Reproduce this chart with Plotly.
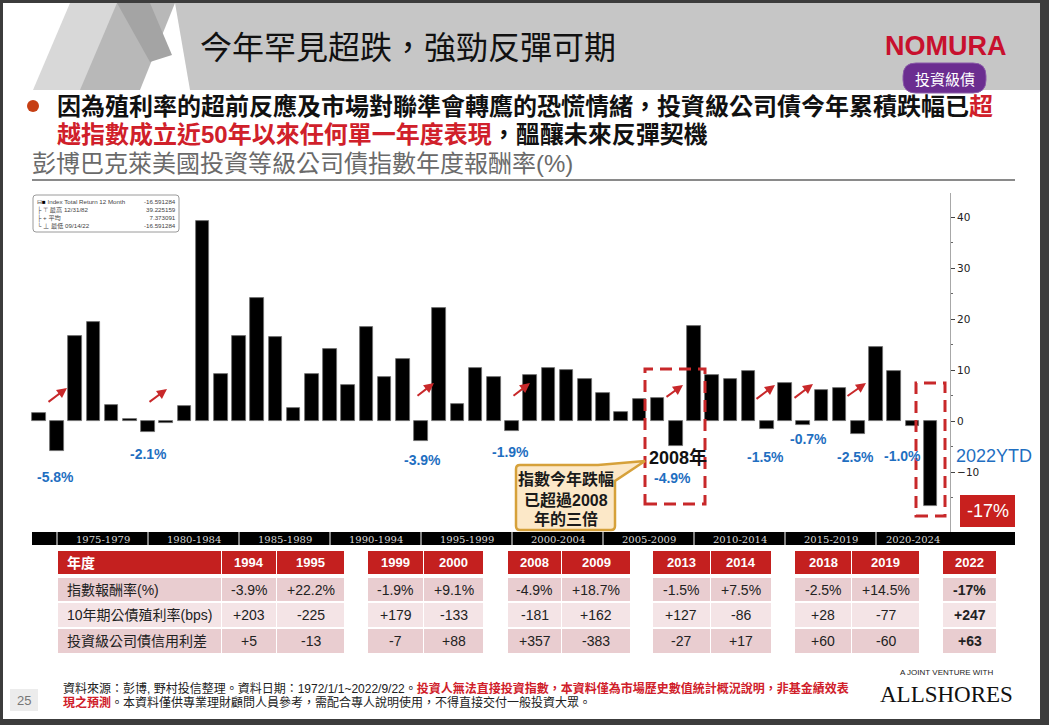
import plotly.graph_objects as go

W, H = 1049, 725

# ---------------- data ----------------
years = list(range(1973, 2023))
annual_returns = [1.5, -5.8, 16.7, 19.4, 3.2, 0.3, -2.1, -0.3, 3.0, 39.2,
                  9.3, 16.7, 24.1, 16.5, 2.6, 9.2, 14.1, 7.1, 18.5, 8.7,
                  12.1, -3.9, 22.2, 3.3, 10.3, 8.6, -1.9, 9.1, 10.3, 10.0,
                  8.2, 5.4, 1.8, 4.3, 4.6, -4.9, 18.7, 9.0, 8.2, 9.8,
                  -1.5, 7.5, -0.7, 6.1, 6.4, -2.5, 14.5, 9.9, -1.0, -16.59]
neg_label_years = [1974, 1979, 1994, 1999, 2008, 2013, 2015, 2018, 2021]
period_starts = [1975, 1980, 1985, 1990, 1995, 2000, 2005, 2010, 2015, 2020]
period_labels = ["1975-1979", "1980-1984", "1985-1989", "1990-1994", "1995-1999",
                 "2000-2004", "2005-2009", "2010-2014", "2015-2019", "2020-2024"]
y_ticks = [-10, 0, 10, 20, 30, 40]

legend_rows = [("Index Total Return 12 Month", "-16.591284"),
               ("最高 12/31/82", "39.225159"),
               ("平均", "7.373091"),
               ("最低 09/14/22", "-16.591284")]

table_row_labels = ["年度", "指數報酬率(%)", "10年期公債殖利率(bps)", "投資級公司債信用利差"]
table_years = ["1994", "1995", "1999", "2000", "2008", "2009", "2013", "2014", "2018", "2019", "2022"]
table_returns = ["-3.9%", "+22.2%", "-1.9%", "+9.1%", "-4.9%", "+18.7%", "-1.5%", "+7.5%", "-2.5%", "+14.5%", "-17%"]
table_yield_bps = ["+203", "-225", "+179", "-133", "-181", "+162", "+127", "-86", "+28", "-77", "+247"]
table_spread = ["+5", "-13", "-7", "+88", "+357", "-383", "-27", "+17", "+60", "-60", "+63"]

# ---------------- helpers ----------------
CJK = "Noto Sans CJK TC"
SANS = "Liberation Sans, Noto Sans CJK TC"
BLUE = "#1f6fc1"

shapes = []
annotations = []


def fx(x):
    return x / W


def fy(y):
    return 1 - y / H


def rect(x0, y0, x1, y1, fill, line_color=None, line_width=0, dash=None):
    shapes.append(dict(type="rect", xref="paper", yref="paper",
                       x0=fx(x0), x1=fx(x1), y0=fy(y1), y1=fy(y0),
                       fillcolor=fill, layer="above",
                       line=dict(color=line_color or "rgba(0,0,0,0)", width=line_width, dash=dash)))


def path_shape(cmds, fill, line_color=None, line_width=0):
    parts = []
    for c in cmds:
        if c[0] == "Z":
            parts.append("Z")
        else:
            parts.append(c[0] + " " + " ".join(f"{fx(px):.5f},{fy(py):.5f}" for px, py in c[1:]))
    shapes.append(dict(type="path", xref="paper", yref="paper", path=" ".join(parts),
                       fillcolor=fill, layer="above",
                       line=dict(color=line_color or "rgba(0,0,0,0)", width=line_width)))


def poly(points, fill):
    cmds = [("M", points[0])] + [("L", p) for p in points[1:]] + [("Z",)]
    path_shape(cmds, fill)


def rrect(x0, y0, x1, y1, r, fill, line_color=None, line_width=0):
    cmds = [("M", (x0 + r, y0)), ("L", (x1 - r, y0)), ("Q", (x1, y0), (x1, y0 + r)),
            ("L", (x1, y1 - r)), ("Q", (x1, y1), (x1 - r, y1)), ("L", (x0 + r, y1)),
            ("Q", (x0, y1), (x0, y1 - r)), ("L", (x0, y0 + r)), ("Q", (x0, y0), (x0 + r, y0)), ("Z",)]
    path_shape(cmds, fill, line_color, line_width)


def text(x, y, s, size, color="#000", family=SANS, xanchor="center", yanchor="middle", align="center"):
    annotations.append(dict(xref="paper", yref="paper", x=fx(x), y=fy(y), text=s,
                            showarrow=False, font=dict(size=size, color=color, family=family),
                            xanchor=xanchor, yanchor=yanchor, borderpad=0, align=align))


# ---------------- chart geometry ----------------
X_LEFT_PX, X_RIGHT_PX = 30, 950
Y_TOP_PX, Y_BOT_PX = 193, 533
ZERO_PX, PX_PER_UNIT = 421, 5.1
X0_PX, PX_PER_YEAR, X0_YEAR = 57, 18.2, 1974
x_range = [X0_YEAR + (X_LEFT_PX - X0_PX) / PX_PER_YEAR, X0_YEAR + (X_RIGHT_PX - X0_PX) / PX_PER_YEAR]
y_range = [(ZERO_PX - Y_BOT_PX) / PX_PER_UNIT, (ZERO_PX - Y_TOP_PX) / PX_PER_UNIT]

fig = go.Figure()
fig.add_trace(go.Bar(x=years, y=annual_returns, width=0.74,
                     marker=dict(color="#000000", line=dict(color="#707070", width=0.8)),
                     hoverinfo="skip", showlegend=False))

# ---------------- header ----------------
rect(0, 0, W, 3, "#3c3c3c")
rect(0, 0, 3, H, "#3c3c3c")
rect(1040, 0, W, H, "#3c3c3c")
rect(0, 719, W, H, "#3c3c3c")
poly([(175, 3), (1040, 3), (1040, 90), (190, 90)], "#c6c6c6")
poly([(33, 90), (70, 3), (120, 3), (83, 90)], "#d8d8d8")
poly([(80, 90), (117, 3), (175, 3), (140, 90)], "#b8b8b8")
poly([(117, 3), (150, 3), (172, 55), (150, 62)], "#a4a4a4")
text(408, 45, "今年罕見超跌，強勁反彈可期", 32, "#111", CJK)
text(946, 46, "<b>NOMURA</b>", 27, "#c8102e", "Liberation Sans")
rrect(903, 63, 986, 93, 13, "#6b2d90", "#8a5aa8", 1)
text(944.5, 78, "投資級債", 15, "#ffffff", CJK)

shapes.append(dict(type="circle", xref="paper", yref="paper", x0=fx(27), x1=fx(39), y0=fy(112), y1=fy(100),
                   fillcolor="#c63f14", line=dict(width=0), layer="above"))
text(56, 106, "<b>因為殖利率的超前反應及市場對聯準會轉鷹的恐慌情緒，投資級公司債今年累積跌幅已"
              "<span style='color:#d0202a'>超</span></b>", 24, "#111", SANS, xanchor="left")
text(56, 134, "<b><span style='color:#d0202a'>越指數成立近50年以來任何單一年度表現</span>，醞釀未來反彈契機</b>",
     24, "#111", SANS, xanchor="left")
text(31, 163, "彭博巴克萊美國投資等級公司債指數年度報酬率(%)", 24, "#6a6a6a", SANS, xanchor="left")
shapes.append(dict(type="line", xref="paper", yref="paper", x0=fx(32), x1=fx(1015), y0=fy(180), y1=fy(180),
                   line=dict(color="#8a8a8a", width=2), layer="above"))

# ---------------- bloomberg legend box ----------------
rrect(33, 195, 179, 232, 3, "#ffffff", "#9a9a9a", 1)
legend_marks = ["⊟<span style='color:#000'>■</span>", "├ ⊤", "├ +", "└ ⊥"]
left_block = "<br>".join(mk + " " + lab for mk, (lab, _) in zip(legend_marks, legend_rows))
right_block = "<br>".join(val for _, val in legend_rows)
text(36, 213.5, left_block, 6.2, "#444", SANS, xanchor="left", align="left")
text(177, 213.5, right_block, 6.2, "#444", SANS, xanchor="right", align="right")

# ---------------- period strip ----------------
rect(32, 532, 1015, 545, "#000000")
for s, lab in zip(period_starts, period_labels):
    b0 = s - 1
    b1 = min(s + 4, x_range[1])
    shapes.append(dict(type="line", xref="x", yref="paper", x0=b0, x1=b0, y0=fy(545), y1=fy(532),
                       line=dict(color="#ffffff", width=1), layer="above"))
    annotations.append(dict(xref="x", yref="paper", x=(b0 + b1) / 2, y=fy(539), text=lab, showarrow=False,
                            font=dict(size=10, color="#d8d8d8", family="DejaVu Serif"),
                            xanchor="center", yanchor="middle"))

# ---------------- chart annotations ----------------
arrows_px = [(47, 403, 67, 388), (148, 403, 167, 389), (416, 397, 434, 383), (512, 397, 530, 383),
             (665, 398, 683, 385), (755, 400, 775, 385), (793, 399, 813, 384), (846, 397, 866, 383)]
for tx, ty, hx, hy in arrows_px:
    annotations.append(dict(xref="paper", yref="paper", x=fx(hx), y=fy(hy), ax=tx - hx, ay=ty - hy,
                            text="", showarrow=True, arrowhead=2, arrowsize=1, arrowwidth=2,
                            arrowcolor="#c8282a"))

neg_label_px = {1974: (55, 477), 1979: (148, 454), 1994: (422, 460), 1999: (510, 452), 2008: (672, 478),
                2013: (765, 457), 2015: (808, 439), 2018: (855, 457), 2021: (902, 456)}
for yr in neg_label_years:
    v = annual_returns[years.index(yr)]
    px_, py_ = neg_label_px[yr]
    text(px_, py_, f"<b>{v:.1f}%</b>", 14, BLUE, "Liberation Sans")

text(678, 458, "<b>2008年</b>", 18, "#111", SANS)

rect(645, 369, 705, 504, "rgba(0,0,0,0)", "#c8282a", 3, "12px,7px")
rect(916, 383, 945, 516, "rgba(0,0,0,0)", "#c8282a", 3, "12px,7px")

path_shape([("M", (520, 465)), ("L", (598, 465)), ("L", (645, 461)), ("L", (615, 481)),
            ("L", (615, 526)), ("Q", (615, 530), (611, 530)), ("L", (520, 530)),
            ("Q", (516, 530), (516, 526)), ("L", (516, 469)), ("Q", (516, 465), (520, 465)), ("Z",)],
           "#fce8c8", "#d6a13a", 2.5)
text(566, 479, "<b>指數今年跌幅</b>", 16, "#1a1a1a", SANS)
text(566, 500, "<b>已超過2008</b>", 16, "#1a1a1a", SANS)
text(566, 519, "<b>年的三倍</b>", 16, "#1a1a1a", SANS)

text(955, 456, "2022YTD", 18, BLUE, "Liberation Sans", xanchor="left")
rect(960, 495, 1015, 527, "#c8201e")
text(987.5, 511, "-17%", 18, "#ffffff", "Liberation Sans")

# ---------------- table ----------------
label_col = (58, 221)
col_edges = [(222, 276), (277, 344), (368, 423), (424, 483), (508, 561), (562, 630),
             (653, 710), (711, 771), (795, 851), (852, 919), (943, 996)]
row_edges = [(551, 574), (578, 601), (603, 627), (629, 653)]
row_fills = ["#c4201f", "#e9cdd0", "#f4e4e6", "#e9cdd0"]
table_body = [table_years, table_returns, table_yield_bps, table_spread]

for r, ((y0, y1), fill) in enumerate(zip(row_edges, row_fills)):
    rect(label_col[0], y0, label_col[1], y1, fill)
    lab_color = "#ffffff" if r == 0 else "#222222"
    lab = f"<b>{table_row_labels[r]}</b>" if r == 0 else table_row_labels[r]
    text(66, (y0 + y1) / 2, lab, 14, lab_color, SANS, xanchor="left")
    for c, (x0, x1) in enumerate(col_edges):
        rect(x0, y0, x1, y1, fill)
        val = table_body[r][c]
        bold = (r == 0) or (c == len(col_edges) - 1)
        s = f"<b>{val}</b>" if bold else val
        col = "#ffffff" if r == 0 else "#222222"
        text((x0 + x1) / 2, (y0 + y1) / 2, s, 13 if r == 0 else 14, col, "Liberation Sans")

# ---------------- footer ----------------
rect(10, 689, 38, 711, "#ececec")
text(24, 700, "25", 13, "#777777", "Liberation Sans")
text(62, 688, "資料來源：彭博, 野村投信整理。資料日期：1972/1/1~2022/9/22。"
              "<b><span style='color:#d0202a'>投資人無法直接投資指數，本資料僅為市場歷史數值統計概況說明，非基金績效表</span></b>",
     12, "#222", SANS, xanchor="left")
text(62, 702, "<b><span style='color:#d0202a'>現之預測</span></b>。本資料僅供專業理財顧問人員參考，需配合專人說明使用，不得直接交付一般投資大眾。",
     12, "#222", SANS, xanchor="left")
text(947, 672, "A JOINT VENTURE WITH", 8, "#222", "Liberation Sans")
text(946, 694, "ALLSHORES", 23, "#111", "Liberation Serif")

# ---------------- layout ----------------
fig.update_layout(
    width=W, height=H, autosize=False,
    margin=dict(l=0, r=0, t=0, b=0, pad=0),
    paper_bgcolor="#ffffff", plot_bgcolor="#ffffff",
    showlegend=False, bargap=0,
    xaxis=dict(domain=[fx(X_LEFT_PX), fx(X_RIGHT_PX)], range=x_range, visible=False,
               showgrid=False, zeroline=False),
    yaxis=dict(domain=[fy(Y_BOT_PX), fy(Y_TOP_PX)], range=y_range, side="right", anchor="x",
               showline=True, linecolor="#a8a8a8", linewidth=1, showgrid=False, zeroline=False,
               ticks="outside", ticklen=4, tickcolor="#444", tickvals=y_ticks,
               tickfont=dict(size=10.5, color="#222", family="DejaVu Sans"),
               minor=dict(tickvals=[-15, -5, 5, 15, 25, 35], ticks="outside", ticklen=2, tickcolor="#666")),
    shapes=shapes, annotations=annotations,
)

fig.write_html("out.html", config={"displayModeBar": False},
               post_script="document.body.style.margin='0';document.body.style.overflow='hidden';")
